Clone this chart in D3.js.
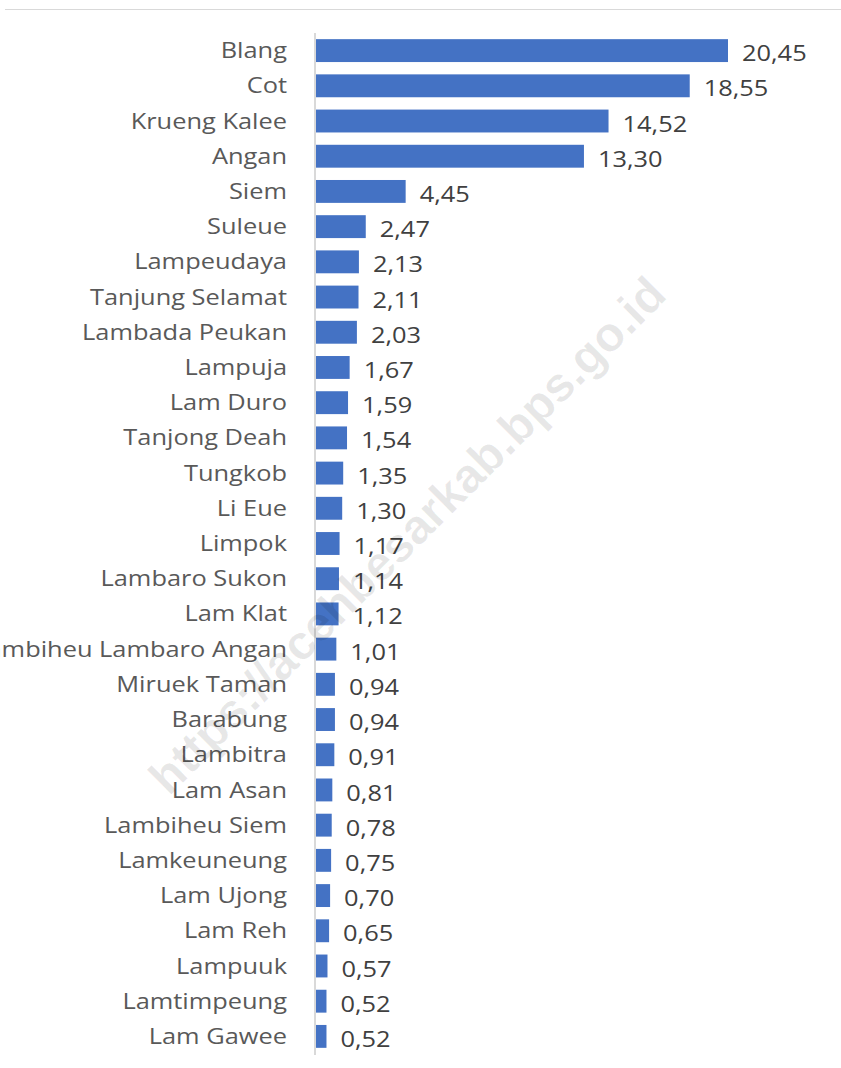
<!DOCTYPE html>
<html><head><meta charset="utf-8">
<script src="https://cdn.jsdelivr.net/npm/d3@7"></script>
<style>body{margin:0;background:#fff}svg{display:block}</style>
</head><body>
<script>
const categories = ["Blang","Cot","Krueng Kalee","Angan","Siem","Suleue","Lampeudaya","Tanjung Selamat","Lambada Peukan","Lampuja","Lam Duro","Tanjong Deah","Tungkob","Li Eue","Limpok","Lambaro Sukon","Lam Klat","Lambiheu Lambaro Angan","Miruek Taman","Barabung","Lambitra","Lam Asan","Lambiheu Siem","Lamkeuneung","Lam Ujong","Lam Reh","Lampuuk","Lamtimpeung","Lam Gawee"];
const values = [20.45,18.55,14.52,13.30,4.45,2.47,2.13,2.11,2.03,1.67,1.59,1.54,1.35,1.30,1.17,1.14,1.12,1.01,0.94,0.94,0.91,0.81,0.78,0.75,0.70,0.65,0.57,0.52,0.52];
const watermark = "https://acehbesarkab.bps.go.id";

const W = 841, H = 1068;
const svg = d3.select("body").append("svg").attr("width", W).attr("height", H);

svg.append("line").attr("x1", 5).attr("x2", W).attr("y1", 9.5).attr("y2", 9.5)
  .attr("stroke", "#d9d9d9").attr("stroke-width", 1);

const x0 = 316;
const x = d3.scaleLinear().domain([0, 20.45]).range([x0, 728]);
const y = d3.scaleBand().domain(categories).range([33, 1054]).paddingInner(0.35).paddingOuter(0.175);

const data = categories.map((c, i) => ({c, v: values[i]}));
const fmt = v => d3.format(".2f")(v).replace(".", ",");

svg.append("g").selectAll("rect").data(data).join("rect")
  .attr("x", x(0)).attr("y", d => y(d.c))
  .attr("width", d => x(d.v) - x(0)).attr("height", y.bandwidth())
  .attr("fill", "#4472C4");

svg.append("line").attr("x1", 315).attr("x2", 315).attr("y1", 33).attr("y2", 1055)
  .attr("stroke", "#d9d9d9").attr("stroke-width", 2);

const font = "'Open Sans', sans-serif";
const sx = 1.21;
svg.append("g").selectAll("text").data(data).join("text")
  .attr("transform", d => `translate(287,${y(d.c) + y.bandwidth() / 2}) scale(${sx},1)`)
  .attr("dy", "0.36em").attr("text-anchor", "end")
  .attr("font-family", font).attr("font-size", 21).attr("fill", "#595959")
  .text(d => d.c);

svg.append("g").selectAll("text").data(data).join("text")
  .attr("transform", d => `translate(${x(d.v) + 14},${y(d.c) + y.bandwidth() / 2 + 3}) scale(${sx},1)`)
  .attr("dy", "0.36em").attr("text-anchor", "start")
  .attr("font-family", font).attr("font-size", 21).attr("fill", "#404040")
  .text(d => fmt(d.v));

svg.append("text").attr("transform", "translate(407,535) rotate(-45)")
  .attr("text-anchor", "middle").attr("dy", "0.35em")
  .attr("font-family", "'Liberation Sans', Arial, sans-serif").attr("font-weight", "bold")
  .attr("font-size", 48).attr("fill", "#000").attr("fill-opacity", 0.09)
  .text(watermark);
</script>
</body></html>
